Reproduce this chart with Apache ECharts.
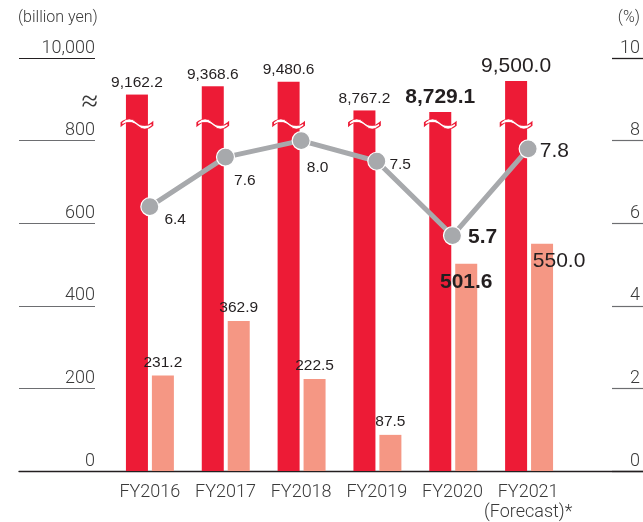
<!DOCTYPE html>
<html><head><meta charset="utf-8">
<script src="https://cdn.jsdelivr.net/npm/echarts@6/dist/echarts.min.js"></script>
<style>html,body{margin:0;padding:0;background:#fff}#c{width:643px;height:522px}</style>
</head><body><div id="c"></div>
<script>
const categories = ['FY2016', 'FY2017', 'FY2018', 'FY2019', 'FY2020', 'FY2021\n(Forecast)*'];
const revenue = [9162.2, 9368.6, 9480.6, 8767.2, 8729.1, 9500.0];
const operatingIncome = [231.2, 362.9, 222.5, 87.5, 501.6, 550.0];
const marginPct = [6.4, 7.6, 8.0, 7.5, 5.7, 7.8];
const leftTickLabels = ['0', '200', '400', '600', '800', '10,000'];
const rightTickLabels = ['0', '2', '4', '6', '8', '10'];

const RED = '#ed1b36', SALMON = '#f59784', GRAY = '#a7a9ac', TXT = '#231f20';
const FONT = 'Liberation Sans';
const W = 643, H = 522;
const gL = 112, gR = 76, gTop = 58, gBottom = 51, breakY = 124;
const upperMin = 8430, upperMax = 10072;
const lowerMax = 1000 * (H - breakY - gBottom) / (H - gTop - gBottom);

function fmt1(v) { return v.toLocaleString('en-US', {minimumFractionDigits: 1, maximumFractionDigits: 1}); }
function emph(i) {
  if (i === 4) return {fontSize: 21, fontWeight: 'bold'};
  if (i === 5) return {fontSize: 21, fontWeight: 'normal'};
  return {fontSize: 15.5, fontWeight: 'normal'};
}
const lineLabelOffsets = [[0, 13], [-6, 24], [-9, 27], [-2, 3], [1, 2], [-3, 2]];
const incomeLabelCfg = [null, null, null, null, {position: 'insideTop', offset: [0, 3]}, {position: 'insideTop', offset: [17, 2]}];

const wave = 'path://M0,3.5 C5,-0.5 11,-0.5 16,3.5 S27,7.5 32,3.5 L32,6.5 C27,10.5 21,10.5 16,6.5 S5,2.5 0,6.5 Z';

const chart = echarts.init(document.getElementById('c'), null, {renderer: 'canvas'});
const catAxis = (gi, extra) => Object.assign({
  type: 'category', gridIndex: gi, data: categories, boundaryGap: true,
  axisLine: {show: false}, axisTick: {show: false}, axisLabel: {show: false}, splitLine: {show: false}
}, extra || {});

chart.setOption({
  animation: false,
  textStyle: {fontFamily: FONT},
  grid: [
    {left: gL, right: gR, top: gTop, bottom: gBottom},
    {left: gL, right: gR, top: gTop, bottom: H - breakY},
    {left: gL, right: gR, top: breakY, bottom: gBottom},
    {left: 19, right: 0, top: gTop, bottom: gBottom}
  ],
  graphic: [
    {type: 'text', left: 18, top: 10, style: {text: '(billion yen)', font: '300 16px Roboto', fill: '#3a3a3a'}},
    {type: 'text', right: 3, top: 10, style: {text: '(%)', font: '300 16px Roboto', fill: '#3a3a3a'}},
    {type: 'text', right: W - 98, top: 88, style: {text: '\u2248', font: '300 30px "DejaVu Sans"', fill: '#3a3a3a'}}
  ],
  xAxis: [
    catAxis(0, {axisLabel: {show: true, interval: 0, margin: 11, fontSize: 18, color: '#3a3a3a', fontFamily: 'Roboto', fontWeight: 300, lineHeight: 20}}),
    catAxis(1),
    catAxis(2),
    {type: 'value', gridIndex: 3, min: 0, max: 1, axisLine: {show: true, lineStyle: {color: TXT, width: 1.3}},
     axisTick: {show: false}, axisLabel: {show: false}, splitLine: {show: false}}
  ],
  yAxis: [
    {type: 'value', gridIndex: 0, position: 'left', offset: 17, min: 0, max: 1000, interval: 200,
     axisLine: {show: false}, splitLine: {show: false},
     axisTick: {show: true, length: 76, lineStyle: {color: '#6d6e71', width: 1.2}},
     axisLabel: {margin: 0, align: 'right', verticalAlign: 'bottom', padding: [0, 0, 1, 0], fontSize: 18,
       color: '#3a3a3a', fontFamily: 'Roboto', fontWeight: 300, formatter: (v) => leftTickLabels[Math.round(v / 200)]}},
    {type: 'value', gridIndex: 0, position: 'right', offset: 46, min: 0, max: 10, interval: 2,
     axisLine: {show: false}, splitLine: {show: false},
     axisTick: {show: true, length: 31, lineStyle: {color: '#6d6e71', width: 1.2}},
     axisLabel: {margin: 28, align: 'right', verticalAlign: 'bottom', padding: [0, 0, 1, 0], fontSize: 18,
       color: '#3a3a3a', fontFamily: 'Roboto', fontWeight: 300, formatter: (v) => rightTickLabels[Math.round(v / 2)]}},
    {type: 'value', gridIndex: 0, position: 'left', offset: 17, min: 0, max: 1000, interval: 1000,
     axisLine: {show: false}, splitLine: {show: false}, axisLabel: {show: false},
     axisTick: {show: true, length: 76, lineStyle: {color: TXT, width: 1.2}}},
    {type: 'value', gridIndex: 0, position: 'right', offset: 46, min: 0, max: 10, interval: 10,
     axisLine: {show: false}, splitLine: {show: false}, axisLabel: {show: false},
     axisTick: {show: true, length: 31, lineStyle: {color: TXT, width: 1.2}}},
    {type: 'value', gridIndex: 1, min: upperMin, max: upperMax, show: false},
    {type: 'value', gridIndex: 2, min: 0, max: lowerMax, show: false},
    {type: 'value', gridIndex: 3, min: 0, max: 1, show: false}
  ],
  series: [
    {type: 'bar', xAxisIndex: 1, yAxisIndex: 4, barWidth: 22, barGap: '18%', clip: true,
     itemStyle: {color: RED},
     data: revenue.map((v, i) => ({value: v, label: Object.assign({show: true, position: 'top', distance: 4, color: TXT, fontFamily: FONT,
       formatter: (p) => fmt1(p.value)}, emph(i))})),
     markPoint: {z: 5, symbol: wave, symbolSize: [31, 10], silent: true, label: {show: false},
       itemStyle: {color: '#fff', borderColor: RED, borderWidth: 1},
       data: categories.map((c) => ({coord: [c, upperMin]}))}},
    {type: 'bar', xAxisIndex: 1, yAxisIndex: 4, barWidth: 22, barGap: '18%', data: categories.map(() => null)},
    {type: 'bar', xAxisIndex: 2, yAxisIndex: 5, barWidth: 22, barGap: '18%', clip: true,
     itemStyle: {color: RED}, data: revenue.slice()},
    {type: 'bar', xAxisIndex: 2, yAxisIndex: 5, barWidth: 22, barGap: '18%', clip: true,
     itemStyle: {color: SALMON},
     data: operatingIncome.map((v, i) => ({value: v, label: Object.assign({show: true, position: 'top', distance: 5, color: TXT, fontFamily: FONT,
       formatter: (p) => fmt1(p.value)}, emph(i), incomeLabelCfg[i] || {})}))},
    {type: 'line', xAxisIndex: 0, yAxisIndex: 1, z: 4,
     lineStyle: {color: GRAY, width: 5}, symbol: 'circle', symbolSize: 18,
     itemStyle: {color: GRAY, borderColor: '#fff', borderWidth: 1.2},
     data: marginPct.map((v, i) => ({value: v, label: Object.assign({show: true, position: 'right', distance: 5, color: TXT, fontFamily: FONT,
       offset: lineLabelOffsets[i], formatter: (p) => fmt1(p.value)}, emph(i))}))}
  ]
});
</script></body></html>
